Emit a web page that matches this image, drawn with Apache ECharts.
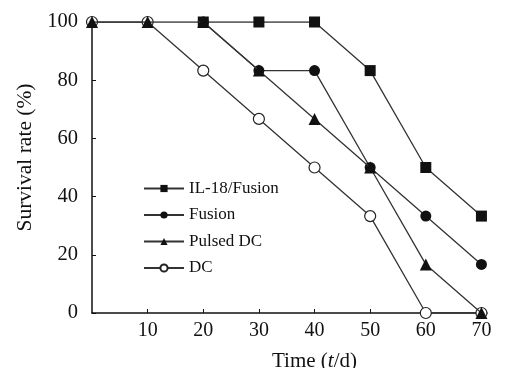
<!DOCTYPE html>
<html>
<head>
<meta charset="utf-8">
<script src="https://cdn.jsdelivr.net/npm/echarts@6/dist/echarts.min.js"></script>
<style>html,body{margin:0;padding:0;background:#fff;}#c{width:505px;height:368px;}</style>
</head>
<body>
<div id="c"></div>
<script>
var days = [0, 10, 20, 30, 40, 50, 60, 70];
var seriesNames = ['IL-18/Fusion', 'Fusion', 'Pulsed DC', 'DC'];
var il18Fusion = [null, null, 100, 100, 100, 83.3, 50, 33.3];
var fusion = [null, null, 100, 83.3, 83.3, 50, 33.3, 16.7];
var pulsedDC = [100, 100, 100, 83.3, 66.7, 50, 16.7, 0];
var dc = [100, 100, 83.3, 66.7, 50, 33.3, 0, 0];
var yTicks = [0, 20, 40, 60, 80, 100];
var xTicks = [10, 20, 30, 40, 50, 60, 70];

function pairs(vals) {
  return days.map(function (d, i) { return [d, vals[i]]; }).filter(function (p) { return p[1] !== null; });
}
var font = 'Liberation Serif, Times New Roman, serif';
var lineStyle = { color: '#333', width: 1.3 };
function mk(name, vals, symbol, fill, z) {
  return {
    name: name, type: 'line', data: pairs(vals), symbol: symbol, symbolSize: symbol === 'triangle' ? 12 : 11,
    lineStyle: lineStyle, z: z,
    itemStyle: { color: fill, borderColor: '#222', borderWidth: fill === '#fff' ? 1.2 : 0 },
    emphasis: { disabled: true }, animation: false
  };
}
var chart = echarts.init(document.getElementById('c'));
chart.setOption({
  backgroundColor: '#fff',
  animation: false,
  grid: { left: 92, right: 18, top: 22, bottom: 55, containLabel: false, outerBoundsMode: 'none' },
  legend: {
    orient: 'vertical', left: 138, top: 175, itemWidth: 40, itemHeight: 9, itemGap: 9.5,
    textStyle: { fontFamily: font, fontSize: 17, color: '#111' },
    data: seriesNames
  },
  xAxis: {
    type: 'value', min: 0, max: 71,
    name: 'Time ({i|t}/d)', nameLocation: 'middle', nameGap: 38,
    nameTextStyle: { fontFamily: font, fontSize: 21, color: '#111', padding: [0, 0, 0, 50],
      rich: { i: { fontFamily: font, fontSize: 21, fontStyle: 'italic', color: '#111' } } },
    splitLine: { show: false },
    axisLine: { lineStyle: { color: '#111', width: 1.5 } },
    axisTick: { inside: true, length: 4, lineStyle: { color: '#111' }, customValues: xTicks },
    axisLabel: { fontFamily: font, fontSize: 20, color: '#111', margin: 8, customValues: xTicks }
  },
  yAxis: {
    type: 'value', min: 0, max: 100, interval: 20,
    name: 'Survival rate (%)', nameLocation: 'middle', nameGap: 56,
    nameTextStyle: { fontFamily: font, fontSize: 21.5, color: '#111', padding: [0, 0, 0, 20] },
    splitLine: { show: false },
    axisLine: { show: true, lineStyle: { color: '#111', width: 1.5 } },
    axisTick: { show: true, inside: true, length: 4, lineStyle: { color: '#111' } },
    axisLabel: { fontFamily: font, fontSize: 20.5, color: '#111', margin: 14 }
  },
  series: [
    mk(seriesNames[0], il18Fusion, 'rect', '#111', 2),
    mk(seriesNames[1], fusion, 'circle', '#111', 3),
    mk(seriesNames[3], dc, 'circle', '#fff', 4),
    mk(seriesNames[2], pulsedDC, 'triangle', '#111', 5)
  ]
});
</script>
</body>
</html>
